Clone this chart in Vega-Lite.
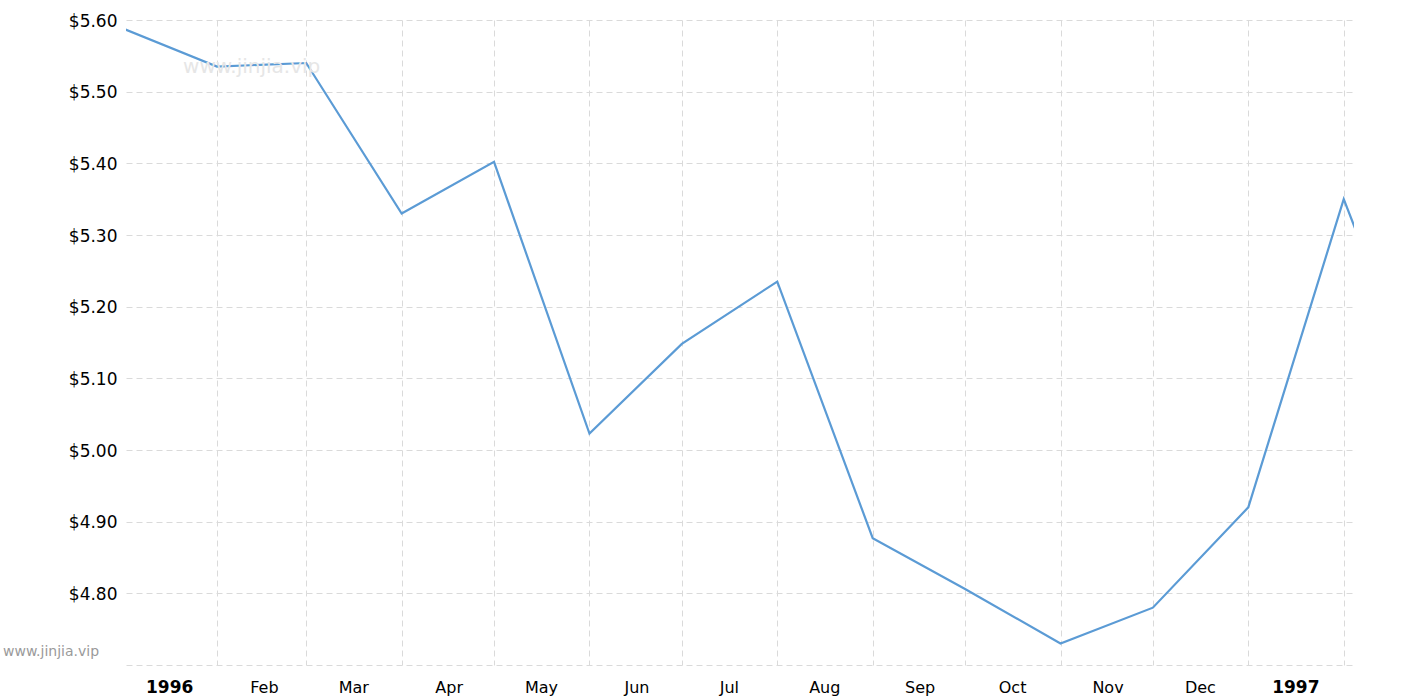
{
  "$schema": "https://vega.github.io/schema/vega-lite/v6.json",
  "width": 1228,
  "height": 645,
  "autosize": "none",
  "padding": {"left": 126, "top": 20, "right": 61, "bottom": 35},
  "background": "white",
  "config": {"view": {"stroke": null}, "font": "DejaVu Sans"},
  "layer": [
    {
      "data": {"values": [
        {"date": "1996-01-01", "price": 5.589},
        {"date": "1996-02-01", "price": 5.535},
        {"date": "1996-03-01", "price": 5.540},
        {"date": "1996-04-01", "price": 5.330},
        {"date": "1996-05-01", "price": 5.402},
        {"date": "1996-06-01", "price": 5.023},
        {"date": "1996-07-01", "price": 5.148},
        {"date": "1996-08-01", "price": 5.235},
        {"date": "1996-09-01", "price": 4.877},
        {"date": "1996-10-01", "price": 4.806},
        {"date": "1996-11-01", "price": 4.730},
        {"date": "1996-12-01", "price": 4.780},
        {"date": "1997-01-01", "price": 4.920},
        {"date": "1997-02-01", "price": 5.350},
        {"date": "1997-03-01", "price": 5.040}
      ]},
      "mark": {"type": "line", "color": "#5b9bd5", "strokeWidth": 2.2, "clip": true},
      "encoding": {
        "x": {
          "field": "date", "type": "temporal",
          "scale": {"type": "utc", "domain": [{"year": 1996, "month": 1, "date": 2, "hours": 11, "utc": true}, {"year": 1997, "month": 2, "date": 4, "hours": 8, "utc": true}]},
          "axis": {
            "title": null,
            "domain": false,
            "ticks": false,
            "values": [
              {"year": 1996, "month": 1, "date": 2, "hours": 12, "utc": true},
              {"year": 1996, "month": 2, "date": 1, "utc": true},
              {"year": 1996, "month": 3, "date": 1, "utc": true},
              {"year": 1996, "month": 4, "date": 1, "utc": true},
              {"year": 1996, "month": 5, "date": 1, "utc": true},
              {"year": 1996, "month": 6, "date": 1, "utc": true},
              {"year": 1996, "month": 7, "date": 1, "utc": true},
              {"year": 1996, "month": 8, "date": 1, "utc": true},
              {"year": 1996, "month": 9, "date": 1, "utc": true},
              {"year": 1996, "month": 10, "date": 1, "utc": true},
              {"year": 1996, "month": 11, "date": 1, "utc": true},
              {"year": 1996, "month": 12, "date": 1, "utc": true},
              {"year": 1997, "month": 1, "date": 1, "utc": true},
              {"year": 1997, "month": 2, "date": 1, "utc": true}
            ],
            "labelExpr": "datum.value >= datetime(1997,1,1) ? '' : (utcmonth(datum.value) === 0 ? utcFormat(datum.value, '%Y') : utcFormat(datum.value, '%b'))",
            "labelOffset": {"condition": {"test": "datum.value < datetime(1996,0,3)", "value": 43}, "value": 47},
            "labelAlign": "center",
            "labelPadding": 14,
            "labelFontSize": {"condition": {"test": "utcmonth(datum.value) === 0", "value": 17}, "value": 16},
            "labelColor": "#000000",
            "labelFontWeight": {"condition": {"test": "utcmonth(datum.value) === 0", "value": "bold"}, "value": "normal"},
            "labelBound": false,
            "labelOverlap": false,
            "grid": true,
            "gridColor": "#dadada",
            "gridDash": [6, 4],
            "gridWidth": 1,
            "gridOpacity": {"condition": {"test": "datum.value < datetime(1996,0,3)", "value": 0}, "value": 1}
          }
        },
        "y": {
          "field": "price", "type": "quantitative",
          "scale": {"domain": [4.7, 5.6], "nice": false, "zero": false},
          "axis": {
            "title": null,
            "domain": false,
            "ticks": false,
            "values": [4.7, 4.8, 4.9, 5.0, 5.1, 5.2, 5.3, 5.4, 5.5, 5.6],
            "labelExpr": "datum.value < 4.75 ? '' : '$' + format(datum.value, '.2f')",
            "labelPadding": 9,
            "labelFontSize": 17,
            "labelColor": "#000000",
            "labelBaseline": "middle",
            "labelOffset": 1,
            "grid": true,
            "gridColor": "#dadada",
            "gridDash": [6, 4],
            "gridWidth": 1
          }
        }
      }
    },
    {
      "data": {"values": [{"label": "www.jinjia.vip"}]},
      "mark": {"type": "text", "color": "#e6e6e6", "fontSize": 20, "align": "left", "baseline": "middle", "font": "DejaVu Sans"},
      "encoding": {
        "x": {"datum": {"year": 1996, "month": 1, "date": 21, "utc": true}, "type": "temporal"},
        "y": {"datum": 5.535, "type": "quantitative"},
        "text": {"field": "label"}
      }
    },
    {
      "data": {"values": [{"label": "www.jinjia.vip"}]},
      "mark": {"type": "text", "color": "#9a9a9a", "fontSize": 14, "align": "left", "baseline": "middle", "font": "DejaVu Sans"},
      "encoding": {
        "x": {"datum": {"year": 1995, "month": 11, "date": 23, "hours": 12, "utc": true}, "type": "temporal"},
        "y": {"datum": 4.718, "type": "quantitative"},
        "text": {"field": "label"}
      }
    }
  ]
}
